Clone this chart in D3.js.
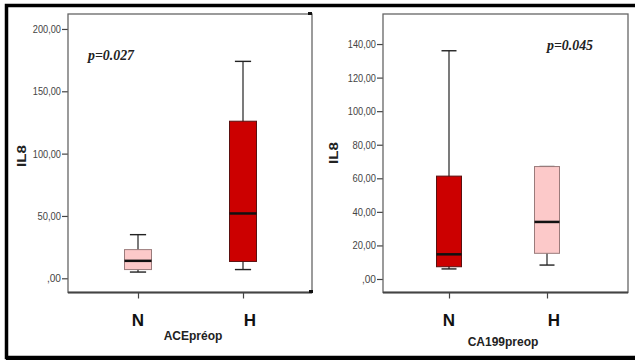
<!DOCTYPE html>
<html>
<head>
<meta charset="utf-8">
<script src="https://cdn.jsdelivr.net/npm/d3@7"></script>
<style>
  body { margin: 0; background: #fff; }
  svg { display: block; }
  .tick text { font-family: "Liberation Sans", Arial, sans-serif; font-size: 11px; fill: #444; }
  .tick line { stroke: #444; stroke-width: 1.2; }
</style>
</head>
<body>
<div id="chart"></div>
<script>
// categories on both x axes
var categories = ['N', 'H'];

// IL8 by ACEpréop (left panel)
var aceMin = [5, 7];
var aceQ1 = [7, 13.5];
var aceMedian = [14, 52];
var aceQ3 = [23, 126];
var aceMax = [35, 174];
var aceTicks = [0, 50, 100, 150, 200];

// IL8 by CA199preop (right panel)
var caMin = [6, 8.3];
var caQ1 = [7.3, 15.3];
var caMedian = [14.7, 34];
var caQ3 = [61.3, 67];
var caMax = [136, 67];
var caTicks = [0, 20, 40, 60, 80, 100, 120, 140];

var width = 635, height = 361;

var svg = d3.select('#chart')
  .append('svg')
    .attr('width', width)
    .attr('height', height);

// outer black frame (open on the right, like the cropped screenshot)
svg.append('path')
  .attr('d', 'M635,5.5 H6.5 V357.5 H635')
  .attr('fill', 'none')
  .attr('stroke', '#000')
  .attr('stroke-width', 3.5);
svg.append('line')
  .attr('x1', 6).attr('x2', 635).attr('y1', 358).attr('y2', 358)
  .attr('stroke', '#000').attr('stroke-width', 4);

var pink = '#fcc9c9', darkRed = '#cc0000';

function fmt(d) { return (d === 0 ? '' : d) + ',00'; }

function drawPanel(o) {
  var x = d3.scalePoint().domain(categories).range(o.xRange);
  var y = d3.scaleLinear().domain(o.yDomain).range([o.bottom, o.top]);

  var g = svg.append('g');

  // y axis, labels squeezed like the narrow SPSS font
  g.append('g')
    .attr('transform', 'translate(' + o.left + ',0)')
    .call(d3.axisLeft(y).tickValues(o.ticks).tickSize(6).tickPadding(1).tickFormat(fmt))
    .call(function(a) { a.select('.domain').remove(); })
    .selectAll('.tick text')
      .attr('textLength', function(d) { return fmt(d).length * 4.7; })
      .attr('lengthAdjust', 'spacingAndGlyphs');

  // x axis ticks
  g.append('g')
    .attr('transform', 'translate(0,' + o.bottom + ')')
    .call(d3.axisBottom(x).tickSize(6).tickFormat(''))
    .call(function(a) { a.select('.domain').remove(); });

  // plot frame
  g.append('rect')
    .attr('x', o.left).attr('y', o.top)
    .attr('width', o.right - o.left).attr('height', o.bottom - o.top)
    .attr('fill', 'none').attr('stroke', '#666').attr('stroke-width', 1.3);
  g.append('line')
    .attr('x1', o.left).attr('x2', o.right).attr('y1', o.bottom).attr('y2', o.bottom)
    .attr('stroke', '#444').attr('stroke-width', 1.8);

  var bw = o.boxWidth;
  var boxes = g.selectAll('.box')
    .data(categories)
    .enter().append('g')
      .attr('class', 'box');

  // whiskers
  boxes.append('line')
    .attr('x1', function(d) { return x(d); })
    .attr('x2', function(d) { return x(d); })
    .attr('y1', function(d, i) { return y(o.max[i]); })
    .attr('y2', function(d, i) { return y(o.min[i]); })
    .attr('stroke', '#222').attr('stroke-width', 1.2);
  ['max', 'min'].forEach(function(k) {
    boxes.append('line')
      .attr('x1', function(d) { return x(d) - bw * 0.3; })
      .attr('x2', function(d) { return x(d) + bw * 0.3; })
      .attr('y1', function(d, i) { return y(o[k][i]); })
      .attr('y2', function(d, i) { return y(o[k][i]); })
      .attr('stroke', '#222').attr('stroke-width', 1.4);
  });

  // boxes
  boxes.append('rect')
    .attr('x', function(d) { return x(d) - bw / 2; })
    .attr('width', bw)
    .attr('y', function(d, i) { return y(o.q3[i]); })
    .attr('height', function(d, i) { return y(o.q1[i]) - y(o.q3[i]); })
    .attr('fill', function(d, i) { return o.fills[i]; })
    .attr('stroke', function(d, i) { return o.fills[i] === pink ? '#9a7b7b' : '#5a1010'; })
    .attr('stroke-width', 1);

  // medians
  boxes.append('line')
    .attr('x1', function(d) { return x(d) - bw / 2; })
    .attr('x2', function(d) { return x(d) + bw / 2; })
    .attr('y1', function(d, i) { return y(o.median[i]); })
    .attr('y2', function(d, i) { return y(o.median[i]); })
    .attr('stroke', '#111').attr('stroke-width', 2.5);

  // category labels
  boxes.append('text')
    .attr('x', function(d) { return x(d) + (d === 'H' ? 7 : 0); })
    .attr('y', 326)
    .attr('text-anchor', 'middle')
    .style('font-family', '"Liberation Sans", Arial, sans-serif')
    .style('font-weight', 'bold')
    .style('font-size', '17px')
    .attr('fill', '#111')
    .text(function(d) { return d; });

  // x axis title
  g.append('text')
    .attr('x', o.titleX).attr('y', o.titleY)
    .attr('text-anchor', 'middle')
    .style('font-family', '"Liberation Sans", Arial, sans-serif')
    .style('font-weight', 'bold')
    .style('font-size', '12px')
    .attr('fill', '#222')
    .text(o.title);

  // y axis title
  g.append('text')
    .attr('transform', 'translate(' + o.ylabX + ',' + o.ylabY + ') rotate(-90)')
    .attr('text-anchor', 'middle')
    .attr('dy', '0.35em')
    .attr('textLength', 22).attr('lengthAdjust', 'spacingAndGlyphs')
    .style('font-family', '"Liberation Sans", Arial, sans-serif')
    .style('font-weight', 'bold')
    .style('font-size', '12px')
    .attr('fill', '#222')
    .text('IL8');

  // p value
  g.append('text')
    .attr('x', o.pX).attr('y', o.pY)
    .attr('textLength', 46).attr('lengthAdjust', 'spacingAndGlyphs')
    .style('font-family', '"Liberation Serif", "Times New Roman", serif')
    .style('font-weight', 'bold')
    .style('font-style', 'italic')
    .style('font-size', '15px')
    .attr('fill', '#222')
    .text(o.p);

  return g;
}

drawPanel({
  left: 68, right: 312, top: 14, bottom: 292.5,
  xRange: [138, 243], yDomain: [-11.4, 212], ticks: aceTicks, boxWidth: 27,
  min: aceMin, q1: aceQ1, median: aceMedian, q3: aceQ3, max: aceMax,
  fills: [pink, darkRed],
  title: 'ACEpréop', titleX: 193, titleY: 340,
  ylabX: 22, ylabY: 156,
  p: 'p=0.027', pX: 88, pY: 60
});

drawPanel({
  left: 383, right: 628, top: 14, bottom: 292.5,
  xRange: [449, 547], yDomain: [-8.05, 157.9], ticks: caTicks, boxWidth: 25,
  min: caMin, q1: caQ1, median: caMedian, q3: caQ3, max: caMax,
  fills: [darkRed, pink],
  title: 'CA199preop', titleX: 503, titleY: 346,
  ylabX: 334, ylabY: 153,
  p: 'p=0.045', pX: 547, pY: 50
});

// small dark marks at the left panel corners
svg.append('rect').attr('x', 308).attr('y', 12).attr('width', 4).attr('height', 3).attr('fill', '#111');
svg.append('rect').attr('x', 309).attr('y', 290).attr('width', 4).attr('height', 3).attr('fill', '#111');
</script>
</body>
</html>
